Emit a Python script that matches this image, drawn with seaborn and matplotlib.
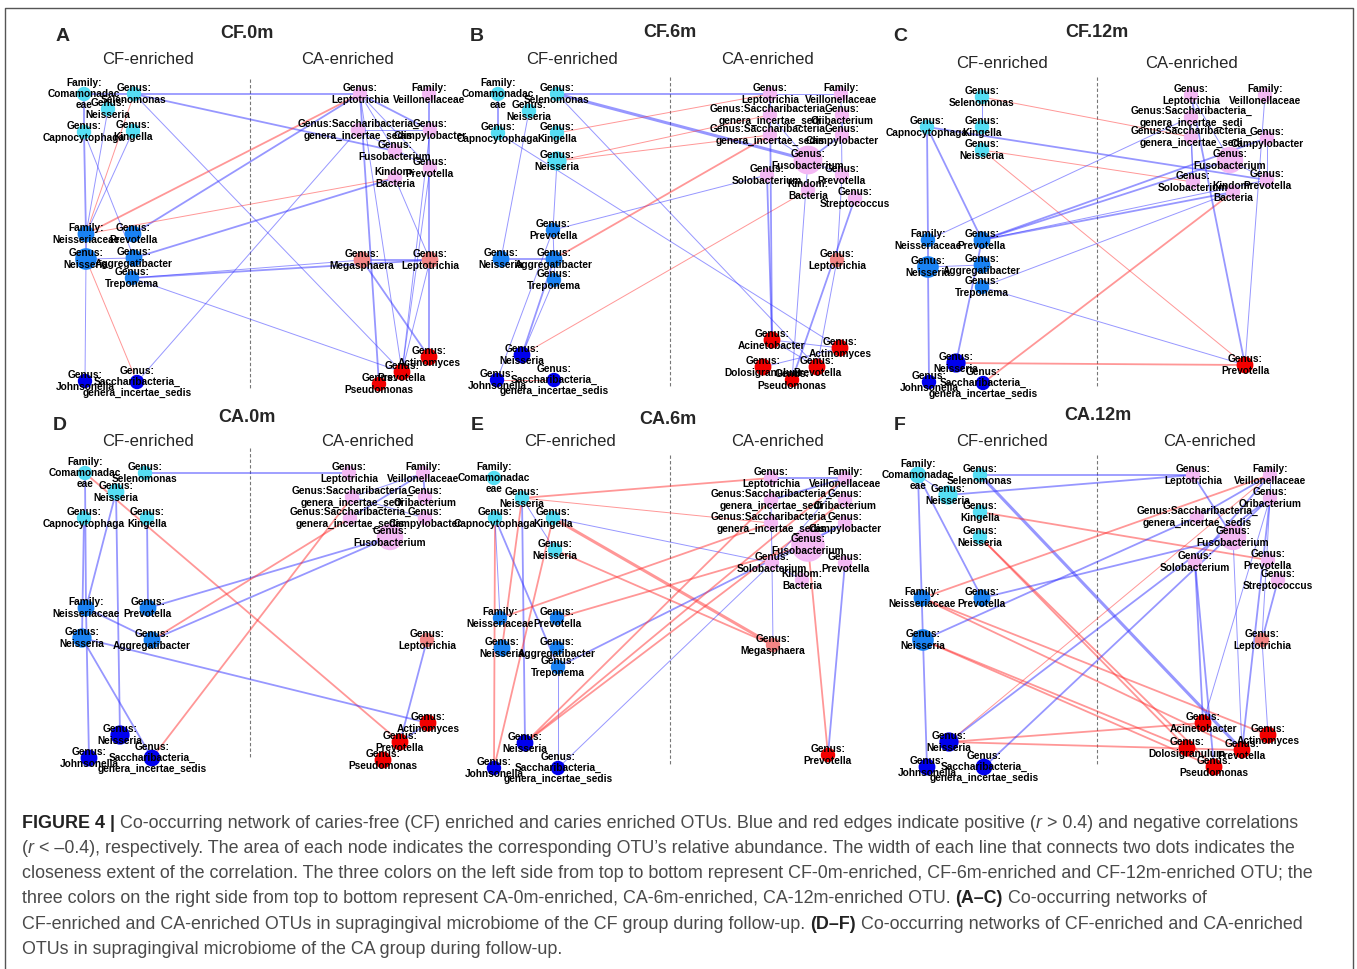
import matplotlib
matplotlib.use("Agg")
import matplotlib.pyplot as plt
import seaborn as sns
import pandas as pd
from matplotlib.font_manager import FontProperties

sns.set_style("white")
plt.rcParams["font.family"] = ["Liberation Sans", "DejaVu Sans"]

W, H = 1357, 969

# ---- node groups ---------------------------------------------------------
GROUPS = ["CF-0m", "CF-6m", "CF-12m", "CA-0m", "CA-6m", "CA-12m"]
PALETTE = {"CF-0m": "#55def4", "CF-6m": "#1a82f3", "CF-12m": "#0000ee",
           "CA-0m": "#f4b8f4", "CA-6m": "#f38585", "CA-12m": "#f20000"}
EDGE_COLOR = {1: "#3030ff", -1: "#ff3030"}
EDGE_WIDTH = {1: 0.7, 2: 1.3, 3: 2.2}
NODE_SCALE = 1.2

SACC_CF = "Genus:\nSaccharibacteria_\ngenera_incertae_sedis"
SACC_CA = "Genus:Saccharibacteria_\ngenera_incertae_sedis"
SACC_CA_CUT = "Genus:Saccharibacteria_\ngenera_incertae_sedi"
COMA = "Family:\nComamonadac\neae"

# ---- A: CF.0m ------------------------------------------------------------
A_labels = [COMA, "Genus:\nSelenomonas", "Genus:\nNeisseria", "Genus:\nCapnocytophaga", "Genus:\nKingella",
            "Family:\nNeisseriaceae", "Genus:\nPrevotella", "Genus:\nNeisseria", "Genus:\nAggregatibacter",
            "Genus:\nTreponema", "Genus:\nJohnsonella", SACC_CF,
            "Genus:\nLeptotrichia", "Family:\nVeillonellaceae", SACC_CA, "Genus:\nCampylobacter",
            "Genus:\nFusobacterium", "Genus:\nPrevotella", "Kindom:\nBacteria",
            "Genus:\nMegasphaera", "Genus:\nLeptotrichia",
            "Genus:\nActinomyces", "Genus:\nPrevotella", "Genus:\nPseudomonas"]
A_x = [84, 134, 108, 84, 133, 86, 133, 86, 134, 132, 85, 137,
       360, 429, 358, 430, 395, 430, 395, 362, 430, 429, 402, 379]
A_y = [94, 94, 109, 132, 131, 234, 234, 259, 258, 278, 381, 382,
       94, 94, 130, 130, 151, 168, 178, 260, 260, 357, 372, 384]
A_group = [0, 0, 0, 0, 0, 1, 1, 1, 1, 1, 2, 2, 3, 3, 3, 3, 3, 3, 3, 4, 4, 5, 5, 5]
A_radius = [6, 6, 6, 6, 6, 7, 7, 9, 7, 6, 6, 6, 6, 6, 6, 6, 6, 6, 6, 7, 7, 7, 7, 6]
A_edges = [(0, 12, 1, 2), (1, 16, 1, 2), (1, 22, 1, 1), (1, 5, -1, 1), (0, 3, 1, 2), (3, 5, 1, 2),
           (5, 7, 1, 2), (7, 10, 1, 1), (2, 5, 1, 1), (4, 5, 1, 1), (3, 8, 1, 1), (5, 12, -1, 2),
           (6, 12, 1, 2), (5, 18, -1, 1), (7, 8, 1, 1), (8, 18, 1, 2), (9, 20, 1, 2), (9, 19, 1, 1),
           (9, 22, 1, 1), (7, 11, -1, 1), (11, 14, 1, 1), (12, 15, 1, 2), (12, 17, 1, 1),
           (12, 16, 1, 1), (12, 23, 1, 2), (12, 22, 1, 1), (13, 21, 1, 2), (14, 15, 1, 1),
           (14, 17, 1, 1), (18, 20, 1, 1), (19, 20, 1, 2), (19, 21, 1, 2), (17, 22, 1, 1),
           (20, 22, 1, 1), (15, 22, 1, 1)]

# ---- B: CF.6m ------------------------------------------------------------
B_labels = [COMA, "Genus:\nSelenomonas", "Genus:\nNeisseria", "Genus:\nCapnocytophaga", "Genus:\nKingella",
            "Genus:\nNeisseria", "Genus:\nPrevotella", "Genus:\nNeisseria", "Genus:\nAggregatibacter",
            "Genus:\nTreponema", "Genus:\nNeisseria", "Genus:\nJohnsonella", SACC_CF,
            "Genus:\nLeptotrichia", "Family:\nVeillonellaceae", SACC_CA_CUT, "Genus:\nOribacterium",
            SACC_CA, "Genus:\nCampylobacter", "Genus:\nFusobacterium", "Genus:\nSolobacterium",
            "Genus:\nPrevotella", "Kindom:\nBacteria", "Genus:\nStreptococcus",
            "Genus:\nLeptotrichia",
            "Genus:\nAcinetobacter", "Genus:\nActinomyces", "Genus:\nDolosigranulum", "Genus:\nPrevotella",
            "Genus:\nPseudomonas"]
B_x = [498, 557, 529, 498, 557, 557, 553, 501, 554, 554, 522, 497, 554,
       770, 841, 770, 842, 770, 842, 808, 767, 842, 808, 855, 837, 772, 840, 763, 817, 792]
B_y = [94, 94, 111, 133, 133, 161, 230, 259, 259, 280, 355, 380, 380,
       94, 94, 115, 115, 135, 135, 160, 175, 175, 190, 198, 260, 340, 348, 367, 367, 380]
B_group = [0] * 6 + [1] * 4 + [2] * 3 + [3] * 11 + [4] + [5] * 5
B_radius = [6, 6, 6, 6, 6, 8, 6, 7, 7, 6, 7, 6, 6,
            6, 6, 6, 6, 6, 6, 12, 6, 6, 6, 6, 6, 7, 7, 7, 7, 6]
B_edges = [(1, 13, 1, 2), (1, 19, 1, 3), (1, 28, 1, 1), (4, 13, -1, 1), (5, 15, -1, 1), (5, 17, -1, 1),
           (2, 7, 1, 1), (0, 3, 1, 2), (3, 26, 1, 1), (5, 6, 1, 1), (6, 8, 1, 1), (7, 8, 1, 2),
           (8, 9, 1, 1), (6, 20, 1, 1), (8, 17, -1, 2), (10, 22, -1, 1), (6, 11, 1, 1), (8, 10, 1, 2),
           (9, 10, 1, 1), (11, 12, -1, 1), (13, 14, 1, 1), (13, 25, 1, 2), (15, 19, 1, 1),
           (17, 19, 1, 1), (18, 19, 1, 2), (19, 21, 1, 1), (14, 21, 1, 1), (16, 18, 1, 1),
           (20, 25, 1, 2), (19, 29, 1, 1), (23, 29, 1, 2), (24, 28, 1, 1), (25, 26, 1, 1),
           (25, 28, 1, 1), (27, 26, 1, 1), (21, 24, 1, 1)]

# ---- C: CF.12m -----------------------------------------------------------
C_labels = ["Genus:\nSelenomonas", "Genus:\nCapnocytophaga", "Genus:\nKingella", "Genus:\nNeisseria",
            "Family:\nNeisseriaceae", "Genus:\nPrevotella", "Genus:\nNeisseria", "Genus:\nAggregatibacter",
            "Genus:\nTreponema", "Genus:\nNeisseria", "Genus:\nJohnsonella", SACC_CF,
            "Genus:\nLeptotrichia", "Family:\nVeillonellaceae", SACC_CA_CUT, SACC_CA_CUT,
            "Genus:\nCampylobacter", "Genus:\nFusobacterium", "Genus:\nSolobacterium", "Genus:\nPrevotella",
            "Kindom:\nBacteria", "Genus:\nPrevotella"]
C_x = [982, 927, 982, 982, 928, 982, 928, 982, 982, 956, 929, 983,
       1191, 1265, 1191, 1191, 1267, 1230, 1193, 1267, 1233, 1245]
C_y = [97, 127, 127, 150, 240, 240, 267, 265, 287, 363, 382, 383,
       95, 95, 117, 137, 138, 160, 182, 180, 192, 365]
C_group = [0] * 4 + [1] * 5 + [2] * 3 + [3] * 9 + [5]
C_radius = [6, 6, 6, 6, 6, 7, 9, 7, 6, 8, 6, 6, 6, 6, 6, 6, 6, 11, 6, 6, 6, 7]
C_edges = [(0, 15, -1, 1), (0, 2, 1, 1), (1, 19, 1, 2), (1, 4, 1, 2), (4, 6, 1, 2), (6, 10, 1, 2),
           (1, 5, 1, 2), (5, 9, 1, 2), (3, 18, -1, 1), (3, 21, -1, 1), (4, 14, 1, 1), (5, 16, 1, 2),
           (5, 17, 1, 2), (5, 20, 1, 2), (5, 19, 1, 1), (6, 7, 1, 1), (8, 20, 1, 1), (8, 21, 1, 1),
           (9, 21, -1, 2), (11, 20, -1, 2), (12, 21, 1, 2), (13, 21, 1, 1), (14, 18, 1, 1),
           (15, 18, 1, 1), (12, 17, 1, 1), (17, 19, 1, 1), (16, 19, 1, 1)]

# ---- D: CA.0m ------------------------------------------------------------
D_labels = [COMA, "Genus:\nSelenomonas", "Genus:\nNeisseria", "Genus:\nCapnocytophaga", "Genus:\nKingella",
            "Family:\nNeisseriaceae", "Genus:\nPrevotella", "Genus:\nNeisseria", "Genus:\nAggregatibacter",
            "Genus:\nNeisseria", "Genus:\nJohnsonella", SACC_CF,
            "Genus:\nLeptotrichia", "Family:\nVeillonellaceae", SACC_CA_CUT, "Genus:\nOribacterium",
            SACC_CA, "Genus:\nCampylobacter", "Genus:\nFusobacterium",
            "Genus:\nLeptotrichia",
            "Genus:\nActinomyces", "Genus:\nPrevotella", "Genus:\nPseudomonas"]
D_x = [85, 145, 116, 84, 147, 86, 148, 82, 152, 120, 89, 152,
       349, 423, 352, 425, 350, 425, 390, 427, 428, 400, 383]
D_y = [473, 473, 492, 518, 518, 608, 608, 638, 640, 735, 758, 758,
       473, 473, 497, 497, 518, 518, 537, 640, 723, 742, 760]
D_group = [0] * 5 + [1] * 4 + [2] * 3 + [3] * 7 + [4] + [5] * 3
D_radius = [6, 6, 7, 6, 6, 7, 7, 8, 7, 8, 7, 7, 6, 6, 6, 6, 6, 6, 11, 6, 7, 7, 7]
D_edges = [(1, 12, 1, 2), (0, 21, -1, 2), (0, 5, 1, 2), (3, 7, 1, 2), (5, 10, 1, 2), (2, 9, 1, 2),
           (2, 5, 1, 2), (4, 6, 1, 2), (5, 8, 1, 2), (6, 18, 1, 2), (8, 18, 1, 2), (8, 16, -1, 2),
           (11, 14, -1, 2), (7, 20, 1, 2), (7, 11, 1, 2), (13, 16, 1, 2), (13, 14, 1, 1),
           (13, 15, 1, 2), (14, 17, 1, 1), (19, 21, 1, 2), (20, 21, 1, 2)]

# ---- E: CA.6m ------------------------------------------------------------
E_labels = [COMA, "Genus:\nNeisseria", "Genus:\nCapnocytophaga", "Genus:\nKingella", "Genus:\nNeisseria",
            "Family:\nNeisseriaceae", "Genus:\nPrevotella", "Genus:\nNeisseria", "Genus:\nAggregatibacter",
            "Genus:\nTreponema", "Genus:\nNeisseria", "Genus:\nJohnsonella", SACC_CF,
            "Genus:\nLeptotrichia", "Family:\nVeillonellaceae", SACC_CA_CUT, "Genus:\nOribacterium",
            SACC_CA, "Genus:\nCampylobacter", "Genus:\nFusobacterium", "Genus:\nSolobacterium",
            "Genus:\nPrevotella", "Kindom:\nBacteria",
            "Genus:\nMegasphaera", "Genus:\nPrevotella"]
E_x = [494, 522, 495, 553, 555, 500, 557, 502, 557, 558, 525, 494, 558,
       771, 845, 771, 845, 771, 845, 808, 772, 845, 802, 773, 828]
E_y = [478, 498, 518, 518, 550, 618, 618, 648, 648, 667, 743, 768, 768,
       478, 478, 500, 500, 523, 523, 545, 563, 563, 580, 645, 755]
E_group = [0] * 5 + [1] * 5 + [2] * 3 + [3] * 10 + [4] + [5]
E_radius = [6, 6, 6, 6, 6, 6, 6, 7, 6, 6, 7, 6, 6, 6, 6, 6, 6, 6, 6, 14, 6, 6, 6, 6, 6]
E_edges = [(1, 13, -1, 2), (1, 17, -1, 1), (3, 23, -1, 3), (4, 23, -1, 2), (1, 10, 1, 2), (1, 4, 1, 1),
           (2, 11, -1, 2), (2, 5, 1, 1), (2, 9, 1, 2), (1, 7, -1, 2), (3, 11, -1, 2), (3, 20, 1, 1),
           (5, 17, -1, 2), (6, 19, -1, 2), (9, 18, 1, 2), (9, 12, 1, 1), (10, 14, -1, 2),
           (10, 15, -1, 2), (10, 16, -1, 2), (12, 20, 1, 1), (13, 14, 1, 2), (14, 15, 1, 2),
           (14, 20, 1, 1), (15, 20, 1, 1), (19, 24, -1, 2), (21, 24, 1, 2), (20, 23, 1, 1),
           (18, 20, 1, 1), (20, 22, 1, 1)]

# ---- F: CA.12m -----------------------------------------------------------
F_labels = [COMA, "Genus:\nSelenomonas", "Genus:\nNeisseria", "Genus:\nKingella", "Genus:\nNeisseria",
            "Family:\nNeisseriaceae", "Genus:\nPrevotella", "Genus:\nNeisseria",
            "Genus:\nNeisseria", "Genus:\nJohnsonella", SACC_CF,
            "Genus:\nLeptotrichia", "Family:\nVeillonellaceae", "Genus:\nOribacterium", SACC_CA,
            "Genus:\nFusobacterium", "Genus:\nSolobacterium", "Genus:\nPrevotella", "Genus:\nStreptococcus",
            "Genus:\nLeptotrichia",
            "Genus:\nAcinetobacter", "Genus:\nActinomyces", "Genus:\nDolosigranulum", "Genus:\nPrevotella",
            "Genus:\nPseudomonas"]
F_x = [918, 980, 948, 980, 980, 922, 982, 923, 949, 927, 984,
       1193, 1270, 1270, 1197, 1233, 1195, 1268, 1278, 1262, 1203, 1268, 1187, 1242, 1214]
F_y = [475, 475, 495, 512, 537, 598, 598, 640, 742, 767, 767,
       475, 475, 498, 517, 537, 562, 560, 580, 640, 723, 735, 748, 750, 767]
F_group = [0] * 5 + [1] * 3 + [2] * 3 + [3] * 8 + [4] + [5] * 5
F_radius = [7, 6, 8, 6, 6, 7, 7, 9, 8, 7, 7, 6, 6, 6, 6, 11, 6, 6, 6, 6, 7, 7, 7, 7, 7]
F_edges = [(1, 11, 1, 2), (2, 11, 1, 2), (1, 23, 1, 3), (0, 7, 1, 2), (7, 9, 1, 2), (0, 2, 1, 1),
           (0, 6, 1, 2), (3, 17, -1, 2), (4, 22, -1, 2), (4, 24, -1, 2), (5, 12, -1, 2), (5, 21, -1, 2),
           (5, 23, -1, 2), (6, 15, 1, 2), (7, 14, 1, 2), (7, 22, -1, 2), (7, 24, -1, 2), (8, 20, -1, 2),
           (8, 23, -1, 2), (8, 12, -1, 1), (8, 13, 1, 2), (10, 13, 1, 2), (11, 15, 1, 2),
           (12, 14, 1, 2), (12, 16, 1, 2), (12, 13, 1, 1), (13, 23, 1, 2), (13, 20, 1, 1),
           (13, 19, 1, 1), (16, 20, 1, 2), (16, 24, 1, 2), (18, 19, 1, 2), (19, 21, 1, 1),
           (15, 23, 1, 1)]

# ---- panel headings --------------------------------------------------------
PANEL_LETTERS = ["A", "B", "C", "D", "E", "F"]
PANEL_TITLES = ["CF.0m", "CF.6m", "CF.12m", "CA.0m", "CA.6m", "CA.12m"]
SIDE_TITLES = ["CF-enriched", "CA-enriched"]

panels = [
    (A_labels, A_x, A_y, A_group, A_radius, A_edges),
    (B_labels, B_x, B_y, B_group, B_radius, B_edges),
    (C_labels, C_x, C_y, C_group, C_radius, C_edges),
    (D_labels, D_x, D_y, D_group, D_radius, D_edges),
    (E_labels, E_x, E_y, E_group, E_radius, E_edges),
    (F_labels, F_x, F_y, F_group, F_radius, F_edges),
]
# heading placement: letter xy, title xy, side-title xs and y, divider x and y-range
heading_layout = [
    ((63, 36), (247, 33), (148, 347, 59), (250, 79, 390)),
    ((477, 36), (670, 32), (572, 768, 59), (670, 77, 388)),
    ((900, 36), (1097, 32), (1002, 1192, 63), (1097, 77, 388)),
    ((60, 425), (247, 417), (148, 367, 442), (250, 448, 758)),
    ((477, 425), (668, 419), (570, 777, 442), (670, 455, 765)),
    ((900, 425), (1098, 416), (1002, 1209, 441), (1097, 455, 765)),
]

fig = plt.figure(figsize=(W / 100, H / 100), dpi=100)
ax = fig.add_axes([0, 0, 1, 1])

for (labels, xs, ys, grp, rad, edges), (lp, tp, sp, dv), letter, title in zip(
        panels, heading_layout, PANEL_LETTERS, PANEL_TITLES):
    for i, j, sign, w in edges:
        ax.plot([xs[i], xs[j]], [ys[i], ys[j]], color=EDGE_COLOR[sign], lw=EDGE_WIDTH[w],
                alpha=0.5, zorder=1, solid_capstyle="butt")
    areas = [(1.44 * NODE_SCALE * r) ** 2 for r in rad]
    df = pd.DataFrame({"x": xs, "y": ys, "group": [GROUPS[g] for g in grp], "area": areas})
    sns.scatterplot(data=df, x="x", y="y", hue="group", palette=PALETTE, size="area",
                    sizes={a: a for a in set(areas)}, legend=False, ax=ax,
                    edgecolor="none", linewidth=0, zorder=3)
    for lab, x, y in zip(labels, xs, ys):
        ax.text(x, y, lab, ha="center", va="center", fontsize=7.3, fontweight="bold",
                linespacing=1.15, zorder=4, color="black")
    ax.text(*lp, letter, ha="center", va="center", fontsize=14, fontweight="bold")
    ax.text(*tp, title, ha="center", va="center", fontsize=13, fontweight="bold")
    ax.text(sp[0], sp[2], SIDE_TITLES[0], ha="center", va="center", fontsize=12)
    ax.text(sp[1], sp[2], SIDE_TITLES[1], ha="center", va="center", fontsize=12)
    ax.plot([dv[0], dv[0]], [dv[1], dv[2]], color="#777777", lw=0.8, ls=(0, (3, 2)), zorder=0)

# frame around the figure block
ax.plot([5, 5, 1353, 1353], [H + 5, 8, 8, H + 5], color="#555555", lw=1.0, zorder=0)

# ---- caption --------------------------------------------------------------
N, B, I = "normal", "bold", "italic"
caption_lines = [
    [("FIGURE 4 |", B), (" Co-occurring network of caries-free (CF) enriched and caries enriched OTUs. "
                         "Blue and red edges indicate positive (", N), ("r", I),
     (" > 0.4) and negative correlations", N)],
    [("(", N), ("r", I), (" < \u20130.4), respectively. The area of each node indicates the corresponding "
                          "OTU\u2019s relative abundance. The width of each line that connects two dots "
                          "indicates the", N)],
    [("closeness extent of the correlation. The three colors on the left side from top to bottom represent "
      "CF-0m-enriched, CF-6m-enriched and CF-12m-enriched OTU; the", N)],
    [("three colors on the right side from top to bottom represent CA-0m-enriched, CA-6m-enriched, "
      "CA-12m-enriched OTU. ", N), ("(A\u2013C)", B), (" Co-occurring networks of", N)],
    [("CF-enriched and CA-enriched OTUs in supragingival microbiome of the CF group during follow-up. ", N),
     ("(D\u2013F)", B), (" Co-occurring networks of CF-enriched and CA-enriched", N)],
    [("OTUs in supragingival microbiome of the CA group during follow-up.", N)],
]
cap_x0, cap_y0, cap_dy = 22, 823, 25.3
renderer = fig.canvas.get_renderer()


def seg_width(text, style, size):
    fp = FontProperties(family="Liberation Sans", size=size,
                        weight="bold" if style == B else "normal",
                        style="italic" if style == I else "normal")
    w1, _, _ = renderer.get_text_width_height_descent(text + "|", fp, ismath=False)
    w2, _, _ = renderer.get_text_width_height_descent("|", fp, ismath=False)
    return w1 - w2


# size chosen so that the widest caption line spans the text block
target = 1310 - cap_x0
base = 12.0
widest = max(sum(seg_width(t, s, base) for t, s in segs) for segs in caption_lines)
cap_size = base * target / widest

for k, segs in enumerate(caption_lines):
    x = cap_x0
    y = cap_y0 + k * cap_dy
    for text, style in segs:
        ax.text(x, y, text, ha="left", va="center", fontsize=cap_size,
                fontweight="bold" if style == B else "normal",
                fontstyle="italic" if style == I else "normal",
                color="#222222" if style == B else "#4a4a4a")
        x += seg_width(text, style, cap_size)

ax.set_xlim(0, W)
ax.set_ylim(H, 0)
ax.set_axis_off()
fig.savefig("out.png", dpi=100)
